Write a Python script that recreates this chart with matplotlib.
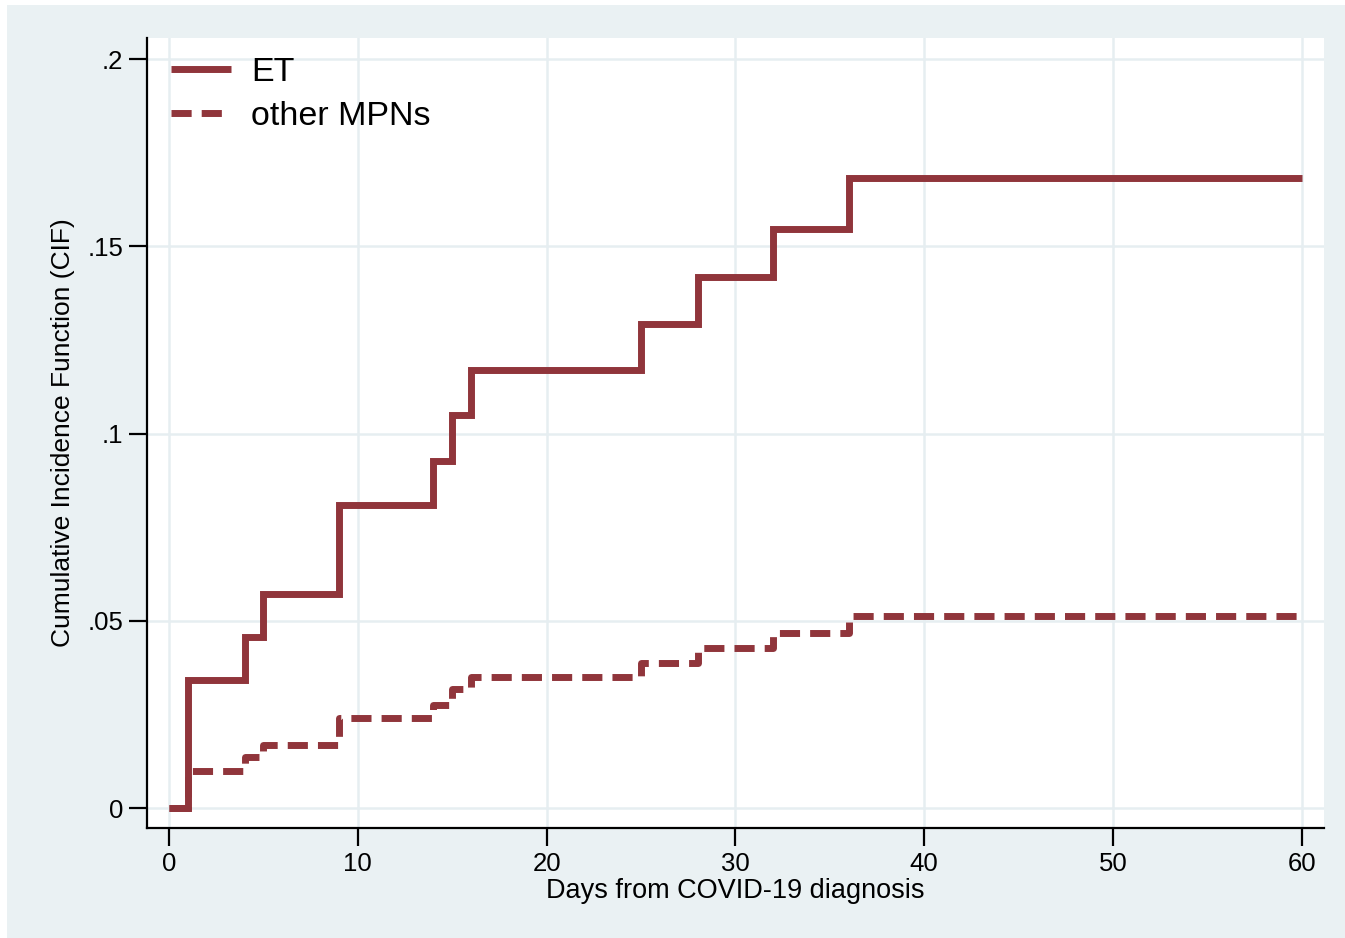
import matplotlib
matplotlib.use("Agg")
import matplotlib.pyplot as plt
from matplotlib.patches import Rectangle

# ---- data ----
et_days = [0, 1, 4, 5, 9, 14, 15, 16, 25, 28, 32, 36, 60]
et_cif = [0.0, 0.0342, 0.0457, 0.0571, 0.0809, 0.0927, 0.1049, 0.1170,
          0.1292, 0.1418, 0.1546, 0.1682, 0.1682]
mpn_days = [0, 1, 4, 5, 9, 14, 15, 16, 25, 28, 32, 36, 60]
mpn_cif = [0.0, 0.0099, 0.0136, 0.0168, 0.0240, 0.0275, 0.0318, 0.0350,
           0.0388, 0.0428, 0.0467, 0.0513, 0.0513]
series_labels = ["ET", "other MPNs"]
x_ticks = [0, 10, 20, 30, 40, 50, 60]
y_ticks = [0, 0.05, 0.10, 0.15, 0.20]
y_ticklabels = ["0", ".05", ".1", ".15", ".2"]
x_title = "Days from COVID-19 diagnosis"
y_title = "Cumulative Incidence Function (CIF)"

plt.rcParams['font.family'] = ['Liberation Sans', 'DejaVu Sans']

W, H = 1345, 938
fig = plt.figure(figsize=(W / 100, H / 100), dpi=100, facecolor="white")
bg = "#EAF1F3"
fig.patches.append(Rectangle((7 / W, 0), 1 - 7 / W, 1 - 5 / H,
                             transform=fig.transFigure, facecolor=bg,
                             edgecolor="none", zorder=-10))

ax_w, ax_h = 1324 - 147, 828 - 38
ax = fig.add_axes([147 / W, 1 - 828 / H, ax_w / W, ax_h / H])
ax.set_facecolor("white")

color = "#90353B"
ax.step(et_days, et_cif, where="post", color=color, lw=5,
        solid_joinstyle="miter", solid_capstyle="butt", label=series_labels[0], zorder=3)
ax.step(mpn_days, mpn_cif, where="post", color=color, lw=5,
        linestyle=(0, (2.9, 1.45)), dash_capstyle="butt",
        label=series_labels[1], zorder=3)

x0 = -(169 - 147) / 18.88
x1 = (1324 - 169) / 18.88
ax.set_xlim(x0, x1)
y0 = -(828 - 808) / 3745
y1 = (808 - 38) / 3745
ax.set_ylim(y0, y1)

ax.set_xticks(x_ticks)
ax.set_yticks(y_ticks)
ax.set_yticklabels(y_ticklabels)
ax.tick_params(axis="both", direction="out", length=13, width=1.6,
               color="black", labelsize=18.5, pad=4)

ax.grid(True, color="#E6EEF1", lw=1.8, zorder=0)
ax.set_axisbelow(True)

for s in ["top", "right"]:
    ax.spines[s].set_visible(False)
for s in ["left", "bottom"]:
    ax.spines[s].set_linewidth(1.6)
    ax.spines[s].set_color("black")

ax.set_xlabel(x_title, fontsize=19.5, labelpad=2)
ax.set_ylabel(y_title, fontsize=19, labelpad=9)

leg = ax.legend(loc="upper left", bbox_to_anchor=(-3 / ax_w, 1 + 8 / ax_h),
                frameon=False, fontsize=24.5, handlelength=1.75,
                handletextpad=0.6, labelspacing=0.38, borderaxespad=0.4)

fig.savefig("out.png", dpi=100, facecolor=fig.get_facecolor())
